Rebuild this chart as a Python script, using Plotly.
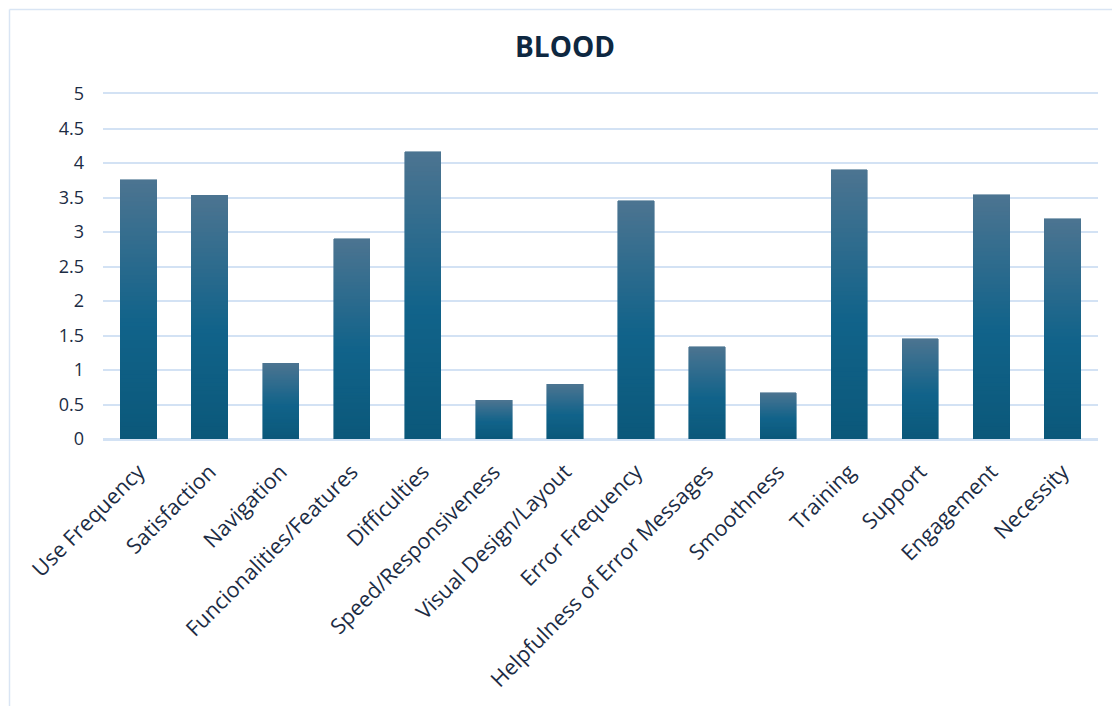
import plotly.graph_objects as go

# Survey item scores for the BLOOD module
categories = [
    "Use Frequency", "Satisfaction", "Navigation", "Funcionalities/Features",
    "Difficulties", "Speed/Responsiveness", "Visual Design/Layout",
    "Error Frequency", "Helpfulness of Error Messages", "Smoothness",
    "Training", "Support", "Engagement", "Necessity",
]
scores = [3.76, 3.53, 1.10, 2.90, 4.16, 0.56, 0.79, 3.45, 1.34, 0.67,
          3.90, 1.45, 3.54, 3.19]
y_ticks = [0, 0.5, 1, 1.5, 2, 2.5, 3, 3.5, 4, 4.5, 5]
y_tick_labels = ["0", "0.5", "1", "1.5", "2", "2.5", "3", "3.5", "4", "4.5", "5"]

# Vertical gradient stops (fraction from bar bottom -> colour)
grad_stops = [(0.0, (11, 88, 122)), (0.45, (17, 99, 138)), (1.0, (76, 116, 145))]
N_SEG = 60


def lerp_colour(t):
    for (t0, c0), (t1, c1) in zip(grad_stops[:-1], grad_stops[1:]):
        if t0 <= t <= t1:
            f = (t - t0) / (t1 - t0) if t1 > t0 else 0
            r, g, b = (round(a + (b_ - a) * f) for a, b_ in zip(c0, c1))
            return f"rgb({r},{g},{b})"
    r, g, b = grad_stops[-1][1]
    return f"rgb({r},{g},{b})"


fig = go.Figure()
# Each bar is built from stacked slices of its own value so the shading
# runs from the base to the top of every bar.
for i in range(N_SEG):
    col = lerp_colour((i + 0.5) / N_SEG)
    fig.add_trace(go.Bar(
        x=categories,
        y=[v / N_SEG for v in scores],
        marker=dict(color=col, line=dict(color=col, width=0.6)),
        showlegend=False,
        hoverinfo="skip",
    ))

navy = "#1c2c44"
grid_col = "#d3e2f4"
font_family = "Open Sans, Noto Sans, sans-serif"

fig.update_layout(
    barmode="stack",
    bargap=0.49,
    width=1112,
    height=706,
    margin=dict(l=103, r=14, t=94, b=267),
    paper_bgcolor="white",
    plot_bgcolor="white",
    title=dict(
        text="<b>BLOOD</b>",
        x=565 / 1112,
        xref="container",
        xanchor="center",
        y=1 - 47 / 706,
        yref="container",
        yanchor="middle",
        font=dict(family=font_family, size=28, color="#0e2841"),
    ),
    font=dict(family=font_family, color=navy),
    xaxis=dict(
        tickangle=-45,
        tickfont=dict(size=21.5, color=navy),
        showgrid=False,
        # top and bottom edges of the plot drawn as gridline-coloured rules
        showline=True,
        mirror=True,
        linecolor=grid_col,
        linewidth=1.5,
        ticks="",
        ticklabelstandoff=10,
    ),
    yaxis=dict(
        range=[0, 5],
        tickvals=y_ticks,
        ticktext=y_tick_labels,
        tickfont=dict(size=18, color=navy),
        showgrid=True,
        gridcolor=grid_col,
        gridwidth=1.5,
        zeroline=True,
        zerolinecolor=grid_col,
        zerolinewidth=1.5,
        ticks="",
        ticklabelstandoff=18,
    ),
    shapes=[
        # chart-area frame: top and left edges
        dict(type="line", xref="paper", yref="paper",
             x0=(9.5 - 103) / 995, x1=(1120 - 103) / 995,
             y0=1 + (94 - 9.5) / 345, y1=1 + (94 - 9.5) / 345,
             line=dict(color="#d9e5f4", width=1.5)),
        dict(type="line", xref="paper", yref="paper",
             x0=(9.5 - 103) / 995, x1=(9.5 - 103) / 995,
             y0=1 + (94 - 9.5) / 345, y1=(439 - 720) / 345,
             line=dict(color="#d9e5f4", width=1.5)),
    ],
)

fig.write_html("out.html")
